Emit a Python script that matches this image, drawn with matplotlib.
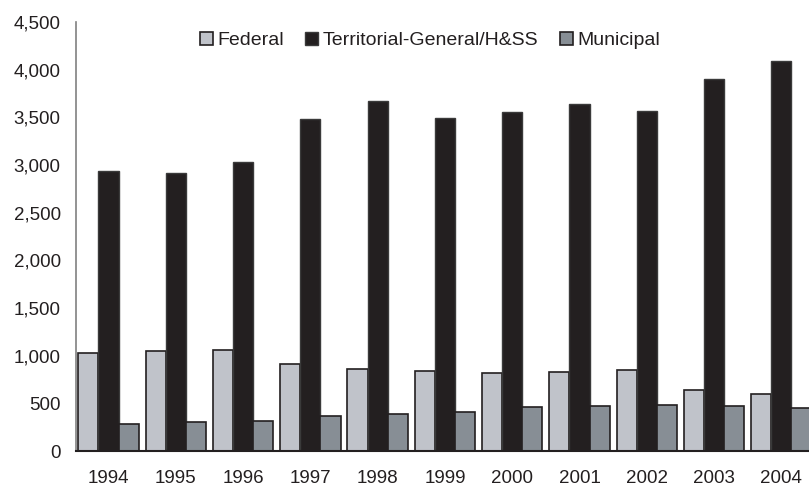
import matplotlib.pyplot as plt
import numpy as np
from matplotlib.ticker import FuncFormatter

# ---------- Data ----------
years = ["1994", "1995", "1996", "1997", "1998", "1999",
         "2000", "2001", "2002", "2003", "2004"]
federal = [1031, 1052, 1059, 916, 860, 842, 815, 829, 853, 643, 598]
territorial = [2934, 2913, 3032, 3486, 3671, 3497, 3556, 3637, 3567, 3905, 4091]
municipal = [283, 301, 318, 370, 388, 412, 465, 475, 486, 475, 448]

series_names = ["Federal", "Territorial-General/H&SS", "Municipal"]
colors = ["#c0c3ca", "#231f20", "#878e95"]

plt.rcParams['font.family'] = ['Liberation Sans', 'DejaVu Sans']

fig = plt.figure(figsize=(8.09, 4.91), dpi=100)
ax = fig.add_axes([76/809, 40/491, 739/809, 429/491])

x = np.arange(len(years))
w = 0.30
edge = "#231f20"
b1 = ax.bar(x - w, federal, w, color=colors[0], edgecolor=edge, linewidth=1.2, label=series_names[0])
b2 = ax.bar(x, territorial, w, color=colors[1], edgecolor="#3a3a3a", linewidth=1.0, label=series_names[1])
b3 = ax.bar(x + w, municipal, w, color=colors[2], edgecolor=edge, linewidth=1.2, label=series_names[2])

ax.set_xlim(-0.483, 10.5)
ax.set_ylim(0, 4500)
ax.set_yticks(np.arange(0, 4501, 500))
ax.yaxis.set_major_formatter(FuncFormatter(lambda v, p: f"{int(v):,}"))
ax.set_xticks(x)
ax.set_xticklabels(years)
ax.tick_params(axis='y', length=0, pad=11, labelsize=13.5, labelcolor="#231f20")
ax.tick_params(axis='x', length=0, pad=14, labelsize=13.5, labelcolor="#231f20")

for s in ["top", "right"]:
    ax.spines[s].set_visible(False)
ax.spines["left"].set_color("#808080")
ax.spines["left"].set_linewidth(1.2)
ax.spines["bottom"].set_color("#231f20")
ax.spines["bottom"].set_linewidth(1.5)

leg = fig.legend(handles=[b1, b2, b3], labels=series_names, loc="center",
                 bbox_to_anchor=(430/809, 1 - 40.7/491), ncol=3, frameon=False,
                 fontsize=14, handlelength=0.65, handleheight=0.65,
                 handletextpad=0.25, columnspacing=1.1, borderaxespad=0)
for t in leg.get_texts():
    t.set_color("#231f20")

fig.savefig("out.png", dpi=100)
